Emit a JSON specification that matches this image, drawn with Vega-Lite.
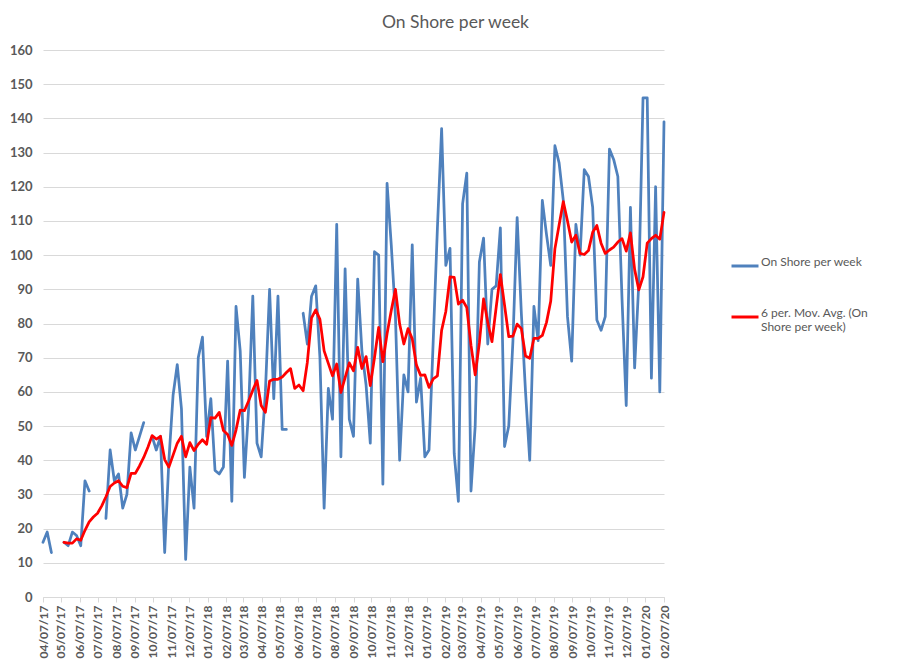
{
  "$schema": "https://vega.github.io/schema/vega-lite/v6.json",
  "width": 621,
  "height": 547,
  "autosize": {"type": "none"},
  "padding": {"left": 43, "top": 50, "right": 247, "bottom": 64},
  "background": "white",
  "config": {
    "view": {"stroke": null},
    "font": "Lato"
  },
  "title": {
    "text": "On Shore per week",
    "anchor": "middle",
    "dx": 102,
    "offset": 13,
    "fontSize": 17.5,
    "fontWeight": "normal",
    "font": "Lato",
    "color": "#595959"
  },
  "data": {
    "values": [
      {"d": "2017-04-07", "a": 16, "m": null},
      {"d": "2017-04-14", "a": 19, "m": null},
      {"d": "2017-04-21", "a": 13, "m": null},
      {"d": "2017-04-28", "a": null, "m": null},
      {"d": "2017-05-05", "a": null, "m": null},
      {"d": "2017-05-12", "a": 16, "m": 16},
      {"d": "2017-05-19", "a": 15, "m": 15.75},
      {"d": "2017-05-26", "a": 19, "m": 15.75},
      {"d": "2017-06-02", "a": 18, "m": 17},
      {"d": "2017-06-09", "a": 15, "m": 16.6},
      {"d": "2017-06-16", "a": 34, "m": 19.5},
      {"d": "2017-06-23", "a": 31, "m": 22},
      {"d": "2017-06-30", "a": null, "m": 23.4},
      {"d": "2017-07-07", "a": null, "m": 24.5},
      {"d": "2017-07-14", "a": null, "m": 26.67},
      {"d": "2017-07-21", "a": 23, "m": 29.33},
      {"d": "2017-07-28", "a": 43, "m": 32.33},
      {"d": "2017-08-04", "a": 34, "m": 33.33},
      {"d": "2017-08-11", "a": 36, "m": 34},
      {"d": "2017-08-18", "a": 26, "m": 32.4},
      {"d": "2017-08-25", "a": 30, "m": 32},
      {"d": "2017-09-01", "a": 48, "m": 36.17},
      {"d": "2017-09-08", "a": 43, "m": 36.17},
      {"d": "2017-09-15", "a": 47, "m": 38.33},
      {"d": "2017-09-22", "a": 51, "m": 40.83},
      {"d": "2017-09-29", "a": null, "m": 43.8},
      {"d": "2017-10-06", "a": 47, "m": 47.2},
      {"d": "2017-10-13", "a": 43, "m": 46.2},
      {"d": "2017-10-20", "a": 47, "m": 47},
      {"d": "2017-10-27", "a": 13, "m": 40.2},
      {"d": "2017-11-03", "a": 40, "m": 38},
      {"d": "2017-11-10", "a": 59, "m": 41.5},
      {"d": "2017-11-17", "a": 68, "m": 45},
      {"d": "2017-11-24", "a": 55, "m": 47},
      {"d": "2017-12-01", "a": 11, "m": 41},
      {"d": "2017-12-08", "a": 38, "m": 45.17},
      {"d": "2017-12-15", "a": 26, "m": 42.83},
      {"d": "2017-12-22", "a": 70, "m": 44.67},
      {"d": "2017-12-29", "a": 76, "m": 46},
      {"d": "2018-01-05", "a": 47, "m": 44.67},
      {"d": "2018-01-12", "a": 58, "m": 52.5},
      {"d": "2018-01-19", "a": 37, "m": 52.33},
      {"d": "2018-01-26", "a": 36, "m": 54},
      {"d": "2018-02-02", "a": 38, "m": 48.67},
      {"d": "2018-02-09", "a": 69, "m": 47.5},
      {"d": "2018-02-16", "a": 28, "m": 44.33},
      {"d": "2018-02-23", "a": 85, "m": 48.83},
      {"d": "2018-03-02", "a": 72, "m": 54.67},
      {"d": "2018-03-09", "a": 35, "m": 54.5},
      {"d": "2018-03-16", "a": 55, "m": 57.33},
      {"d": "2018-03-23", "a": 88, "m": 60.5},
      {"d": "2018-03-30", "a": 45, "m": 63.33},
      {"d": "2018-04-06", "a": 41, "m": 56},
      {"d": "2018-04-13", "a": 60, "m": 54},
      {"d": "2018-04-20", "a": 90, "m": 63.17},
      {"d": "2018-04-27", "a": 58, "m": 63.67},
      {"d": "2018-05-04", "a": 88, "m": 63.67},
      {"d": "2018-05-11", "a": 49, "m": 64.33},
      {"d": "2018-05-18", "a": 49, "m": 65.67},
      {"d": "2018-05-25", "a": null, "m": 66.8},
      {"d": "2018-06-01", "a": null, "m": 61},
      {"d": "2018-06-08", "a": null, "m": 62},
      {"d": "2018-06-15", "a": 83, "m": 60.33},
      {"d": "2018-06-22", "a": 74, "m": 68.67},
      {"d": "2018-06-29", "a": 88, "m": 81.67},
      {"d": "2018-07-06", "a": 91, "m": 84},
      {"d": "2018-07-13", "a": 70, "m": 81.2},
      {"d": "2018-07-20", "a": 26, "m": 72},
      {"d": "2018-07-27", "a": 61, "m": 68.33},
      {"d": "2018-08-03", "a": 52, "m": 64.67},
      {"d": "2018-08-10", "a": 109, "m": 68.17},
      {"d": "2018-08-17", "a": 41, "m": 59.83},
      {"d": "2018-08-24", "a": 96, "m": 64.17},
      {"d": "2018-08-31", "a": 52, "m": 68.5},
      {"d": "2018-09-07", "a": 47, "m": 66.17},
      {"d": "2018-09-14", "a": 93, "m": 73},
      {"d": "2018-09-21", "a": 72, "m": 66.83},
      {"d": "2018-09-28", "a": 62, "m": 70.33},
      {"d": "2018-10-05", "a": 45, "m": 61.83},
      {"d": "2018-10-12", "a": 101, "m": 70},
      {"d": "2018-10-19", "a": 100, "m": 78.83},
      {"d": "2018-10-26", "a": 33, "m": 68.83},
      {"d": "2018-11-02", "a": 121, "m": 77},
      {"d": "2018-11-09", "a": 103, "m": 83.83},
      {"d": "2018-11-16", "a": 82, "m": 90},
      {"d": "2018-11-23", "a": 40, "m": 79.83},
      {"d": "2018-11-30", "a": 65, "m": 74},
      {"d": "2018-12-07", "a": 60, "m": 78.5},
      {"d": "2018-12-14", "a": 103, "m": 75.5},
      {"d": "2018-12-21", "a": 57, "m": 67.83},
      {"d": "2018-12-28", "a": 64, "m": 64.83},
      {"d": "2019-01-04", "a": 41, "m": 65},
      {"d": "2019-01-11", "a": 43, "m": 61.33},
      {"d": "2019-01-18", "a": 75, "m": 63.83},
      {"d": "2019-01-25", "a": 108, "m": 64.67},
      {"d": "2019-02-01", "a": 137, "m": 78},
      {"d": "2019-02-08", "a": 97, "m": 83.5},
      {"d": "2019-02-15", "a": 102, "m": 93.67},
      {"d": "2019-02-22", "a": 42, "m": 93.5},
      {"d": "2019-03-01", "a": 28, "m": 85.67},
      {"d": "2019-03-08", "a": 115, "m": 86.83},
      {"d": "2019-03-15", "a": 124, "m": 84.67},
      {"d": "2019-03-22", "a": 31, "m": 73.67},
      {"d": "2019-03-29", "a": 50, "m": 65},
      {"d": "2019-04-05", "a": 98, "m": 74.33},
      {"d": "2019-04-12", "a": 105, "m": 87.17},
      {"d": "2019-04-19", "a": 74, "m": 80.33},
      {"d": "2019-04-26", "a": 90, "m": 74.67},
      {"d": "2019-05-03", "a": 91, "m": 84.67},
      {"d": "2019-05-10", "a": 108, "m": 94.33},
      {"d": "2019-05-17", "a": 44, "m": 85.33},
      {"d": "2019-05-24", "a": 50, "m": 76.17},
      {"d": "2019-05-31", "a": 75, "m": 76.33},
      {"d": "2019-06-07", "a": 111, "m": 79.83},
      {"d": "2019-06-14", "a": 83, "m": 78.5},
      {"d": "2019-06-21", "a": 60, "m": 70.5},
      {"d": "2019-06-28", "a": 40, "m": 69.83},
      {"d": "2019-07-05", "a": 85, "m": 75.67},
      {"d": "2019-07-12", "a": 75, "m": 75.67},
      {"d": "2019-07-19", "a": 116, "m": 76.5},
      {"d": "2019-07-26", "a": 106, "m": 80.33},
      {"d": "2019-08-02", "a": 97, "m": 86.5},
      {"d": "2019-08-09", "a": 132, "m": 101.83},
      {"d": "2019-08-16", "a": 127, "m": 108.83},
      {"d": "2019-08-23", "a": 116, "m": 115.67},
      {"d": "2019-08-30", "a": 82, "m": 110},
      {"d": "2019-09-06", "a": 69, "m": 103.83},
      {"d": "2019-09-13", "a": 109, "m": 105.83},
      {"d": "2019-09-20", "a": 100, "m": 100.5},
      {"d": "2019-09-27", "a": 125, "m": 100.17},
      {"d": "2019-10-04", "a": 123, "m": 101.33},
      {"d": "2019-10-11", "a": 114, "m": 106.67},
      {"d": "2019-10-18", "a": 81, "m": 108.67},
      {"d": "2019-10-25", "a": 78, "m": 103.5},
      {"d": "2019-11-01", "a": 82, "m": 100.5},
      {"d": "2019-11-08", "a": 131, "m": 101.5},
      {"d": "2019-11-15", "a": 128, "m": 102.33},
      {"d": "2019-11-22", "a": 123, "m": 103.83},
      {"d": "2019-11-29", "a": 87, "m": 104.83},
      {"d": "2019-12-06", "a": 56, "m": 101.17},
      {"d": "2019-12-13", "a": 114, "m": 106.5},
      {"d": "2019-12-20", "a": 67, "m": 95.83},
      {"d": "2019-12-27", "a": 92, "m": 89.83},
      {"d": "2020-01-03", "a": 146, "m": 93.67},
      {"d": "2020-01-10", "a": 146, "m": 103.5},
      {"d": "2020-01-17", "a": 64, "m": 104.83},
      {"d": "2020-01-24", "a": 120, "m": 105.83},
      {"d": "2020-01-31", "a": 60, "m": 104.67},
      {"d": "2020-02-07", "a": 139, "m": 112.5}
    ]
  },
  "encoding": {
    "x": {
      "field": "d",
      "type": "temporal",
      "scale": {
        "type": "utc",
        "nice": false,
        "domain": [
          {"year": 2017, "month": 4, "date": 7, "utc": true},
          {"year": 2020, "month": 2, "date": 7, "utc": true}
        ]
      },
      "axis": {
        "title": null,
        "grid": false,
        "labelExpr": "utcFormat(datum.value, '%m/%d/%y')",
        "labelAngle": -90,
        "labelFont": "Lato",
        "labelFontSize": 12,
        "labelFontWeight": "bold",
        "labelColor": "#595959",
        "labelPadding": 3,
        "labelOverlap": false,
        "labelFlush": false,
        "tickColor": "#D9D9D9",
        "tickSize": 5,
        "domainColor": "#D9D9D9",
        "values": [
          {"year": 2017, "month": 4, "date": 7, "utc": true},
          {"year": 2017, "month": 5, "date": 7, "utc": true},
          {"year": 2017, "month": 6, "date": 7, "utc": true},
          {"year": 2017, "month": 7, "date": 7, "utc": true},
          {"year": 2017, "month": 8, "date": 7, "utc": true},
          {"year": 2017, "month": 9, "date": 7, "utc": true},
          {"year": 2017, "month": 10, "date": 7, "utc": true},
          {"year": 2017, "month": 11, "date": 7, "utc": true},
          {"year": 2017, "month": 12, "date": 7, "utc": true},
          {"year": 2018, "month": 1, "date": 7, "utc": true},
          {"year": 2018, "month": 2, "date": 7, "utc": true},
          {"year": 2018, "month": 3, "date": 7, "utc": true},
          {"year": 2018, "month": 4, "date": 7, "utc": true},
          {"year": 2018, "month": 5, "date": 7, "utc": true},
          {"year": 2018, "month": 6, "date": 7, "utc": true},
          {"year": 2018, "month": 7, "date": 7, "utc": true},
          {"year": 2018, "month": 8, "date": 7, "utc": true},
          {"year": 2018, "month": 9, "date": 7, "utc": true},
          {"year": 2018, "month": 10, "date": 7, "utc": true},
          {"year": 2018, "month": 11, "date": 7, "utc": true},
          {"year": 2018, "month": 12, "date": 7, "utc": true},
          {"year": 2019, "month": 1, "date": 7, "utc": true},
          {"year": 2019, "month": 2, "date": 7, "utc": true},
          {"year": 2019, "month": 3, "date": 7, "utc": true},
          {"year": 2019, "month": 4, "date": 7, "utc": true},
          {"year": 2019, "month": 5, "date": 7, "utc": true},
          {"year": 2019, "month": 6, "date": 7, "utc": true},
          {"year": 2019, "month": 7, "date": 7, "utc": true},
          {"year": 2019, "month": 8, "date": 7, "utc": true},
          {"year": 2019, "month": 9, "date": 7, "utc": true},
          {"year": 2019, "month": 10, "date": 7, "utc": true},
          {"year": 2019, "month": 11, "date": 7, "utc": true},
          {"year": 2019, "month": 12, "date": 7, "utc": true},
          {"year": 2020, "month": 1, "date": 7, "utc": true},
          {"year": 2020, "month": 2, "date": 7, "utc": true}
        ]
      }
    }
  },
  "layer": [
    {
      "mark": {"type": "line", "strokeWidth": 2.75, "strokeJoin": "round", "strokeCap": "round"},
      "encoding": {
        "y": {
          "field": "a",
          "type": "quantitative",
          "scale": {"domain": [0, 160], "nice": false},
          "axis": {
            "title": null,
            "values": [0, 10, 20, 30, 40, 50, 60, 70, 80, 90, 100, 110, 120, 130, 140, 150, 160],
            "domain": false,
            "ticks": false,
            "grid": true,
            "gridColor": "#D9D9D9",
            "labelFont": "Lato",
            "labelFontSize": 13,
            "labelFontWeight": "bold",
            "labelColor": "#595959",
            "labelPadding": 11
          }
        },
        "color": {
          "datum": "On Shore per week",
          "type": "nominal",
          "scale": {
            "domain": ["On Shore per week", "6 per. Mov. Avg. (On Shore per week)"],
            "range": ["#4F81BD", "#FF0000"]
          },
          "legend": {
            "title": null,
            "orient": "none",
            "legendX": 687,
            "legendY": 201,
            "symbolType": "stroke",
            "symbolSize": 729,
            "symbolStrokeWidth": 3,
            "labelFont": "Lato",
            "labelFontSize": 12,
            "labelColor": "#595959",
            "labelOffset": 1,
            "labelLimit": 300,
            "labelBaseline": "alphabetic",
            "labelLineHeight": 16,
            "rowPadding": 30,
            "labelExpr": "datum.label == '6 per. Mov. Avg. (On Shore per week)' ? ['6 per. Mov. Avg. (On', 'Shore per week)'] : datum.label"
          }
        }
      }
    },
    {
      "mark": {"type": "line", "strokeWidth": 2.75, "strokeJoin": "round", "strokeCap": "round"},
      "encoding": {
        "y": {
          "field": "m",
          "type": "quantitative",
          "scale": {"domain": [0, 160], "nice": false},
          "axis": {
            "title": null,
            "values": [0, 10, 20, 30, 40, 50, 60, 70, 80, 90, 100, 110, 120, 130, 140, 150, 160],
            "domain": false,
            "ticks": false,
            "grid": true,
            "gridColor": "#D9D9D9",
            "labelFont": "Lato",
            "labelFontSize": 13,
            "labelFontWeight": "bold",
            "labelColor": "#595959",
            "labelPadding": 11
          }
        },
        "color": {
          "datum": "6 per. Mov. Avg. (On Shore per week)",
          "type": "nominal"
        }
      }
    }
  ]
}
